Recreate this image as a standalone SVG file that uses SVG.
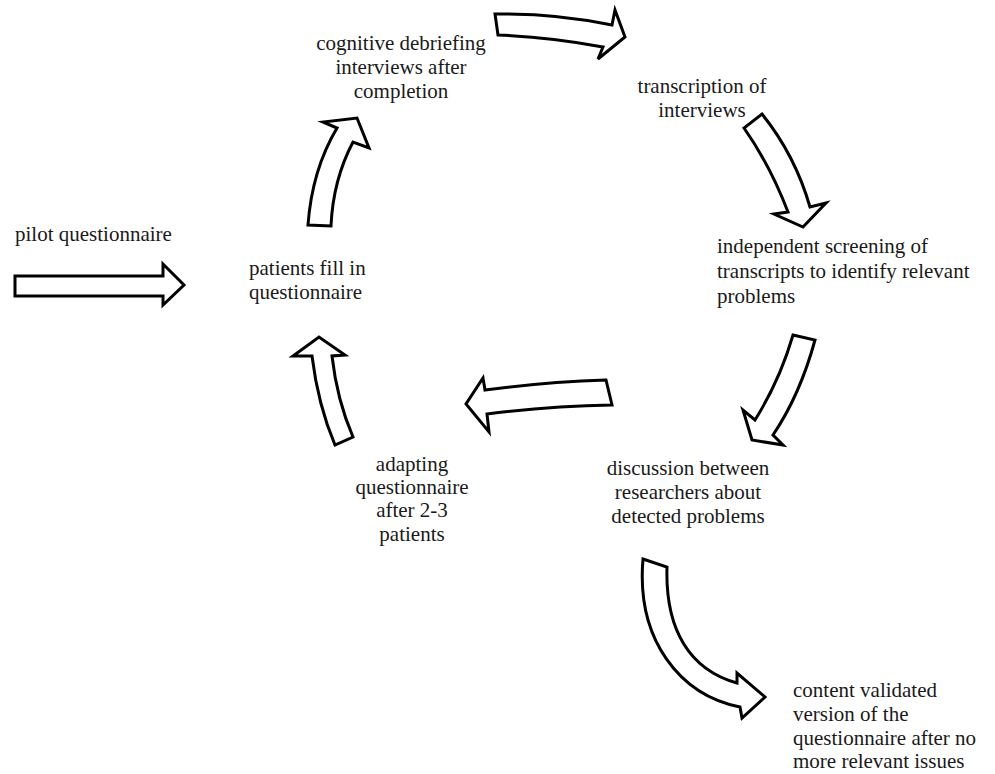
<svg xmlns="http://www.w3.org/2000/svg" width="995" height="774" viewBox="0 0 995 774">
<style>
.a{fill:#fff;stroke:#000;stroke-width:3;stroke-linejoin:miter}
text{font-family:"Liberation Serif","Times New Roman",serif;font-size:21px;fill:#1a1a1a}
.c{text-anchor:middle}
</style>
<rect width="995" height="774" fill="#fff"/>
<g id="connectors">
<path id="a-pilot" class="a" d="M15,276 L163,276 L163,264 L184,285 L163,305 L163,296 L15,296 Z"/>
<path id="a-top" class="a" d="M495,14 Q555,13 612,25 L615,10 L625,37 L598,59 L603,47 Q550,37 498,35 Z"/>
<path id="a-trans" class="a" d="M762,114 Q795,155 810,207 L826,203 L803,227 L774,214 L788,212 Q770,165 744,128 Z"/>
<path id="a-screen" class="a" d="M793,335 L815,340 Q800,395 773,435 L783,445 L752,440 L743,410 L755,420 Q780,380 793,335 Z"/>
<path id="a-final" class="a" d="M643,559 L667,567 C665,630 690,670 737,683 L737,673 L765,697 L742,718 L740,707 C680,695 636,640 643,559 Z"/>
<path id="a-adapt" class="a" d="M606,380 Q545,382 485,390 L483,378 L466,404 L489,432 L487,414 Q550,406 612,405 Z"/>
<path id="a-up1" class="a" d="M335,445 Q318,405 312,356 L293,356 L319,337 L345,355 L332,356 Q337,400 353,437 Z"/>
<path id="a-up2" class="a" d="M308,225 Q312,170 337,128 L323,122 L357,118 L369,148 L353,142 Q333,180 331,226 Z"/>
</g>
<g id="n-pilot"><text x="15" y="241">pilot questionnaire</text></g>
<g id="n-patients"><text x="249" y="275">patients fill in</text><text x="249" y="299">questionnaire</text></g>
<g id="n-cognitive"><text class="c" x="401" y="50">cognitive debriefing</text><text class="c" x="401" y="74">interviews after</text><text class="c" x="401" y="98">completion</text></g>
<g id="n-transcription"><text class="c" x="702" y="93">transcription of</text><text class="c" x="702" y="117">interviews</text></g>
<g id="n-screening"><text x="717" y="253">independent screening of</text><text x="717" y="278">transcripts to identify relevant</text><text x="717" y="303">problems</text></g>
<g id="n-discussion"><text class="c" x="688" y="475">discussion between</text><text class="c" x="688" y="499">researchers about</text><text class="c" x="688" y="523">detected problems</text></g>
<g id="n-adapting"><text class="c" x="412" y="471">adapting</text><text class="c" x="412" y="494">questionnaire</text><text class="c" x="412" y="517">after 2-3</text><text class="c" x="412" y="541">patients</text></g>
<g id="n-final"><text x="793" y="697">content validated</text><text x="793" y="721">version of the</text><text x="793" y="745">questionnaire after no</text><text x="793" y="768">more relevant issues</text></g>
</svg>
